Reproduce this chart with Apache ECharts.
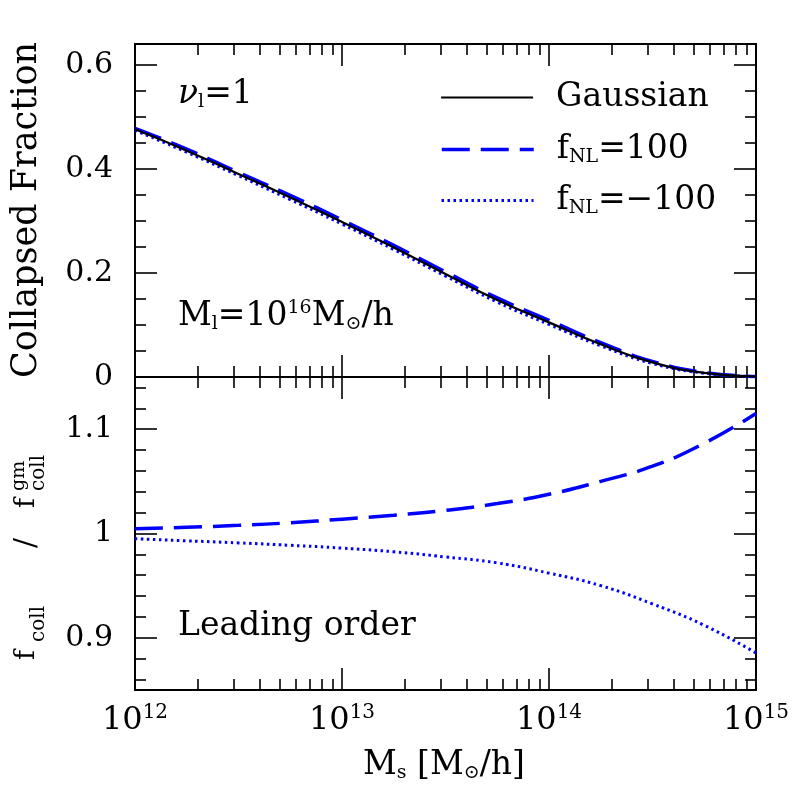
<!DOCTYPE html>
<html>
<head>
<meta charset="utf-8">
<script src="https://cdn.jsdelivr.net/npm/echarts@6/dist/echarts.min.js"></script>
<style>
  html, body { margin: 0; padding: 0; background: #fff; }
  #chart { width: 797px; height: 797px; }
</style>
</head>
<body>
<div id="chart"></div>
<script>
// log10 of the small-halo mass M_s [Msun/h]
var logMs = [12, 12.25, 12.5, 12.75, 13, 13.25, 13.5, 13.75, 14, 14.25, 14.5, 14.75, 15];

// top panel: collapsed fraction
var fcollGauss = [0.476, 0.435, 0.390, 0.345, 0.298, 0.249, 0.198, 0.148, 0.105, 0.063, 0.028, 0.008, 0.001];
var fcollPos   = [0.478, 0.438, 0.393, 0.349, 0.302, 0.253, 0.202, 0.152, 0.109, 0.066, 0.030, 0.0087, 0.0011];
var fcollNeg   = [0.474, 0.432, 0.387, 0.341, 0.294, 0.245, 0.194, 0.144, 0.101, 0.060, 0.026, 0.0073, 0.0009];

// bottom panel: ratio to the gaussian value
var ratioPos = [1.0045, 1.006, 1.0078, 1.0103, 1.0137, 1.0175, 1.0222, 1.0287, 1.0376, 1.050, 1.0645, 1.0865, 1.115];
var ratioNeg = [0.995, 0.993, 0.991, 0.9887, 0.986, 0.9825, 0.9775, 0.9718, 0.962, 0.950, 0.9325, 0.912, 0.8855];

// ticks
var xMajor = [12, 13, 14, 15];
var topMajor = [0, 0.2, 0.4, 0.6];
var topMinor = [0.05, 0.1, 0.15, 0.25, 0.3, 0.35, 0.45, 0.5, 0.55];
var botMajor = [0.9, 1, 1.1];
var botMinor = [0.86, 0.88, 0.92, 0.94, 0.96, 0.98, 1.02, 1.04, 1.06, 1.08, 1.12, 1.14];

var xMinor = [];
for (var d = 12; d < 15; d++) {
    for (var k = 2; k <= 9; k++) xMinor.push(d + Math.log10(k));
}

var FONT = "'DejaVu Serif', 'Liberation Serif', serif";
var BLUE = '#0000ff';

function pairs(ys) {
    return logMs.map(function (x, i) { return [x, ys[i]]; });
}

function tickAxis(grid, pos, min, max, vals, len, label) {
    return {
        type: 'value',
        gridIndex: grid,
        position: pos,
        min: min,
        max: max,
        axisLine: {show: false, onZero: false},
        splitLine: {show: false},
        axisTick: {
            show: true, inside: true, length: len, customValues: vals,
            lineStyle: {color: '#000', width: 1.6}
        },
        axisLabel: label || {show: false}
    };
}

var xLabel = {
    show: true,
    customValues: xMajor,
    margin: 14,
    color: '#000',
    fontFamily: FONT,
    formatter: function (v) { return '{b|10}{s|' + Math.round(v) + '}'; },
    rich: {
        b: {fontSize: 32, fontFamily: FONT, color: '#000', lineHeight: 34},
        s: {fontSize: 20, fontFamily: FONT, color: '#000', lineHeight: 34, padding: [0, 0, 17, 0]}
    }
};

function yLabel(vals) {
    return {
        show: true,
        customValues: vals,
        margin: 22,
        color: '#000',
        fontSize: 30,
        fontFamily: FONT,
        formatter: function (v) { return String(+v.toFixed(2)); }
    };
}

var xAxes = [
    tickAxis(0, 'bottom', 12, 15, xMajor, 22),
    tickAxis(0, 'top', 12, 15, xMajor, 22),
    tickAxis(0, 'bottom', 12, 15, xMinor, 11),
    tickAxis(0, 'top', 12, 15, xMinor, 11),
    tickAxis(1, 'bottom', 12, 15, xMajor, 22, xLabel),
    tickAxis(1, 'top', 12, 15, xMajor, 22),
    tickAxis(1, 'bottom', 12, 15, xMinor, 11),
    tickAxis(1, 'top', 12, 15, xMinor, 11)
];

var yAxes = [
    tickAxis(0, 'left', 0, 0.64, topMajor, 22, yLabel(topMajor)),
    tickAxis(0, 'right', 0, 0.64, topMajor, 22),
    tickAxis(0, 'left', 0, 0.64, topMinor, 11),
    tickAxis(0, 'right', 0, 0.64, topMinor, 11),
    tickAxis(1, 'left', 0.85, 1.15, botMajor, 22, yLabel(botMajor)),
    tickAxis(1, 'right', 0.85, 1.15, botMajor, 22),
    tickAxis(1, 'left', 0.85, 1.15, botMinor, 11),
    tickAxis(1, 'right', 0.85, 1.15, botMinor, 11)
];

var dashed = {color: BLUE, width: 3.5, type: [28, 11]};
var dotted = {color: BLUE, width: 3, type: [2.5, 3.5]};
var solid = {color: '#000', width: 2.2, type: 'solid'};

function lineSeries(name, grid, ys, style, z) {
    return {
        name: name,
        type: 'line',
        xAxisIndex: grid * 4,
        yAxisIndex: grid * 4,
        data: pairs(ys),
        smooth: 0.5,
        showSymbol: false,
        symbol: 'none',
        color: style.color,
        lineStyle: style,
        z: z,
        silent: true
    };
}

var legendRich = {
    m: {fontSize: 33, fontFamily: FONT, color: '#000', lineHeight: 30},
    s: {fontSize: 19, fontFamily: FONT, color: '#000', lineHeight: 30, padding: [16, 0, 0, 0]}
};

function legendAt(name, top) {
    return {
        data: [name],
        left: 435,
        top: top,
        orient: 'vertical',
        selectedMode: false,
        itemWidth: 92,
        itemHeight: 14,
        itemStyle: {opacity: 0},
        lineStyle: {width: 'inherit'},
        textStyle: {
            fontSize: 33, fontFamily: FONT, color: '#000', lineHeight: 30,
            padding: [0, 0, 0, 18], rich: legendRich
        },
        formatter: function (n) {
            if (n === 'Gaussian') return '{m|Gaussian}';
            if (n === 'fNL=100') return '{m|f}{s|NL}{m|=100}';
            return '{m|f}{s|NL}{m|=\u2212100}';
        }
    };
}

var annRich = {
    m: {fontSize: 33, fontFamily: FONT, fill: '#000', lineHeight: 34},
    g: {fontSize: 33, fontFamily: FONT, fill: '#000', lineHeight: 34, fontStyle: 'italic'},
    s: {fontSize: 19, fontFamily: FONT, fill: '#000', lineHeight: 34, padding: [16, 0, 0, 0]},
    u: {fontSize: 19, fontFamily: FONT, fill: '#000', lineHeight: 34, padding: [0, 0, 16, 0]}
};

function ann(x, y, text, align) {
    return {
        type: 'text',
        x: x,
        y: y,
        silent: true,
        style: {
            text: text, rich: annRich, fill: '#000',
            fontSize: 33, fontFamily: FONT,
            align: align || 'left', verticalAlign: 'middle'
        }
    };
}

function small(x, y, text, size) {
    return {
        type: 'text', x: x, y: y, silent: true,
        style: {text: text, fill: '#000', fontSize: size, fontFamily: FONT,
                align: 'left', verticalAlign: 'middle'}
    };
}

var dom = document.getElementById('chart');
var myChart = echarts.init(dom, null, {renderer: 'canvas'});

var option = {
    animation: false,
    backgroundColor: '#fff',
    grid: [
        {left: 135, width: 621, top: 44, height: 333, show: true, borderColor: '#000', borderWidth: 2, backgroundColor: 'transparent'},
        {left: 135, width: 621, top: 377, height: 313, show: true, borderColor: '#000', borderWidth: 2, backgroundColor: 'transparent'}
    ],
    xAxis: xAxes,
    yAxis: yAxes,
    legend: [
        legendAt('Gaussian', 76),
        legendAt('fNL=100', 127),
        legendAt('fNL=-100', 178)
    ],
    series: [
        lineSeries('fNL=100', 0, fcollPos, dashed, 2),
        lineSeries('fNL=-100', 0, fcollNeg, dotted, 3),
        lineSeries('Gaussian', 0, fcollGauss, solid, 4),
        lineSeries('fNL=100', 1, ratioPos, dashed, 2),
        lineSeries('fNL=-100', 1, ratioNeg, dotted, 3)
    ],
    graphic: [
        ann(178, 94, '{g|\u03bd}{s|l}{m|=1}'),
        ann(178, 316, '{m|M}{s|l}{m|=10}{u|16}{m|M}{s|\u2299}{m|/h}'),
        ann(178, 626, '{m|Leading order}'),
        ann(444, 765, '{m|M}{s|s} {m|[M}{s|\u2299}{m|/h]}', 'center'),
        {
            type: 'group', x: 27, y: 210, rotation: Math.PI / 2, silent: true,
            children: [{
                type: 'text', x: 0, y: 0,
                style: {text: 'Collapsed Fraction', fill: '#000', fontSize: 35, fontFamily: FONT,
                        align: 'center', verticalAlign: 'middle'}
            }]
        },
        {
            type: 'group', x: 28, y: 560, rotation: Math.PI / 2, silent: true,
            children: [
                small(-100, -1, 'f', 27),
                small(-82, 11, 'coll', 20),
                small(12, -1, '/', 30),
                small(52, -1, 'f', 27),
                small(69, -9, 'gm', 19),
                small(69, 11, 'coll', 20)
            ]
        }
    ]
};

if (option && typeof option === "object") {
    myChart.setOption(option, true);
}
</script>
</body>
</html>
